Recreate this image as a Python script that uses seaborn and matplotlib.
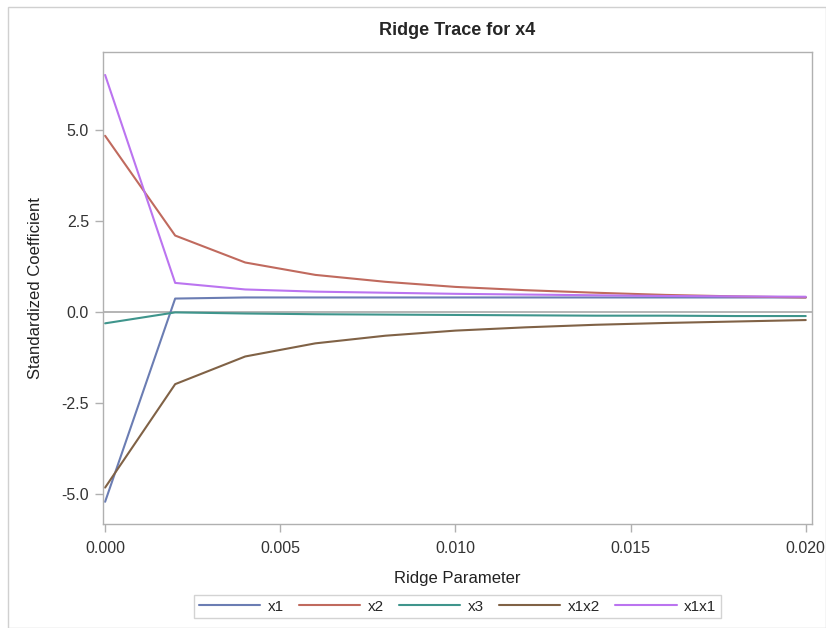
import numpy as np
import pandas as pd
import seaborn as sns
import matplotlib.pyplot as plt
from matplotlib.patches import Rectangle

# ridge parameter values
ridge = [0.000, 0.002, 0.004, 0.006, 0.008, 0.010, 0.012, 0.014, 0.016, 0.018, 0.020]

# standardized coefficients
x1 = [-5.21, 0.37, 0.40, 0.40, 0.40, 0.40, 0.40, 0.40, 0.40, 0.40, 0.40]
x2 = [4.84, 2.10, 1.36, 1.02, 0.83, 0.69, 0.60, 0.53, 0.47, 0.43, 0.40]
x3 = [-0.31, -0.01, -0.04, -0.06, -0.07, -0.08, -0.09, -0.10, -0.10, -0.11, -0.11]
x1x2 = [-4.82, -1.98, -1.22, -0.86, -0.65, -0.51, -0.42, -0.35, -0.30, -0.26, -0.22]
x1x1 = [6.51, 0.80, 0.62, 0.56, 0.53, 0.50, 0.48, 0.46, 0.44, 0.43, 0.42]

names = ['x1', 'x2', 'x3', 'x1x2', 'x1x1']
colors = ['#6b7db3', '#c06a5e', '#3f958c', '#806246', '#bb74f0']

df = pd.DataFrame({'x1': x1, 'x2': x2, 'x3': x3, 'x1x2': x1x2, 'x1x1': x1x1})
df['ridge'] = ridge
long = df.melt(id_vars='ridge', var_name='var', value_name='coef')

sns.set_style('white')
plt.rcParams['font.family'] = ['Liberation Sans', 'DejaVu Sans']

fig = plt.figure(figsize=(8.26, 6.28), dpi=100)
ax = fig.add_axes([0.1247, 0.1656, 0.858, 0.7516])

# reference line at zero
ax.axhline(0, color='#a8a8a8', lw=1.2, zorder=1)

sns.lineplot(data=long, x='ridge', y='coef', hue='var', hue_order=names,
             palette=colors, lw=1.5, ax=ax, legend=False, zorder=2)

ax.set_xlim(-0.00006, 0.02017)
ax.set_ylim(-5.82, 7.14)
ax.set_xticks([0.0, 0.005, 0.010, 0.015, 0.020])
ax.set_xticklabels(['0.000', '0.005', '0.010', '0.015', '0.020'])
ax.set_yticks([-5.0, -2.5, 0.0, 2.5, 5.0])
ax.set_yticklabels(['-5.0', '-2.5', '0.0', '2.5', '5.0'])

for s in ax.spines.values():
    s.set_color('#b0b0b0')
    s.set_linewidth(1.0)
ax.tick_params(axis='both', length=6, width=1, color='#b0b0b0',
               labelsize=11.5, labelcolor='#333333', bottom=True, left=True)
ax.tick_params(axis='x', pad=6)
ax.tick_params(axis='y', pad=4)

ax.set_xlabel('Ridge Parameter', fontsize=12, color='#222222', labelpad=11)
ax.set_ylabel('Standardized Coefficient', fontsize=12, color='#222222', labelpad=13)
ax.set_title('Ridge Trace for x4', fontsize=13, fontweight='bold', pad=12)

handles = [plt.Line2D([], [], color=c, lw=1.5) for c in colors]
leg = fig.legend(handles, names, loc='center', bbox_to_anchor=(0.554, 0.034),
                 ncol=5, frameon=True, fontsize=11, handlelength=4.0,
                 columnspacing=1.0, handletextpad=0.5, borderpad=0.3,
                 borderaxespad=0, fancybox=False)
leg.get_frame().set_edgecolor('#c8c8c8')
leg.get_frame().set_linewidth(1.0)

# outer border around the graph
fig.patches.append(Rectangle((0.0097, 0.0), 0.99, 0.989, transform=fig.transFigure,
                             fill=False, edgecolor='#d0d0d0', lw=1.0))

fig.savefig('out.png', dpi=100)
